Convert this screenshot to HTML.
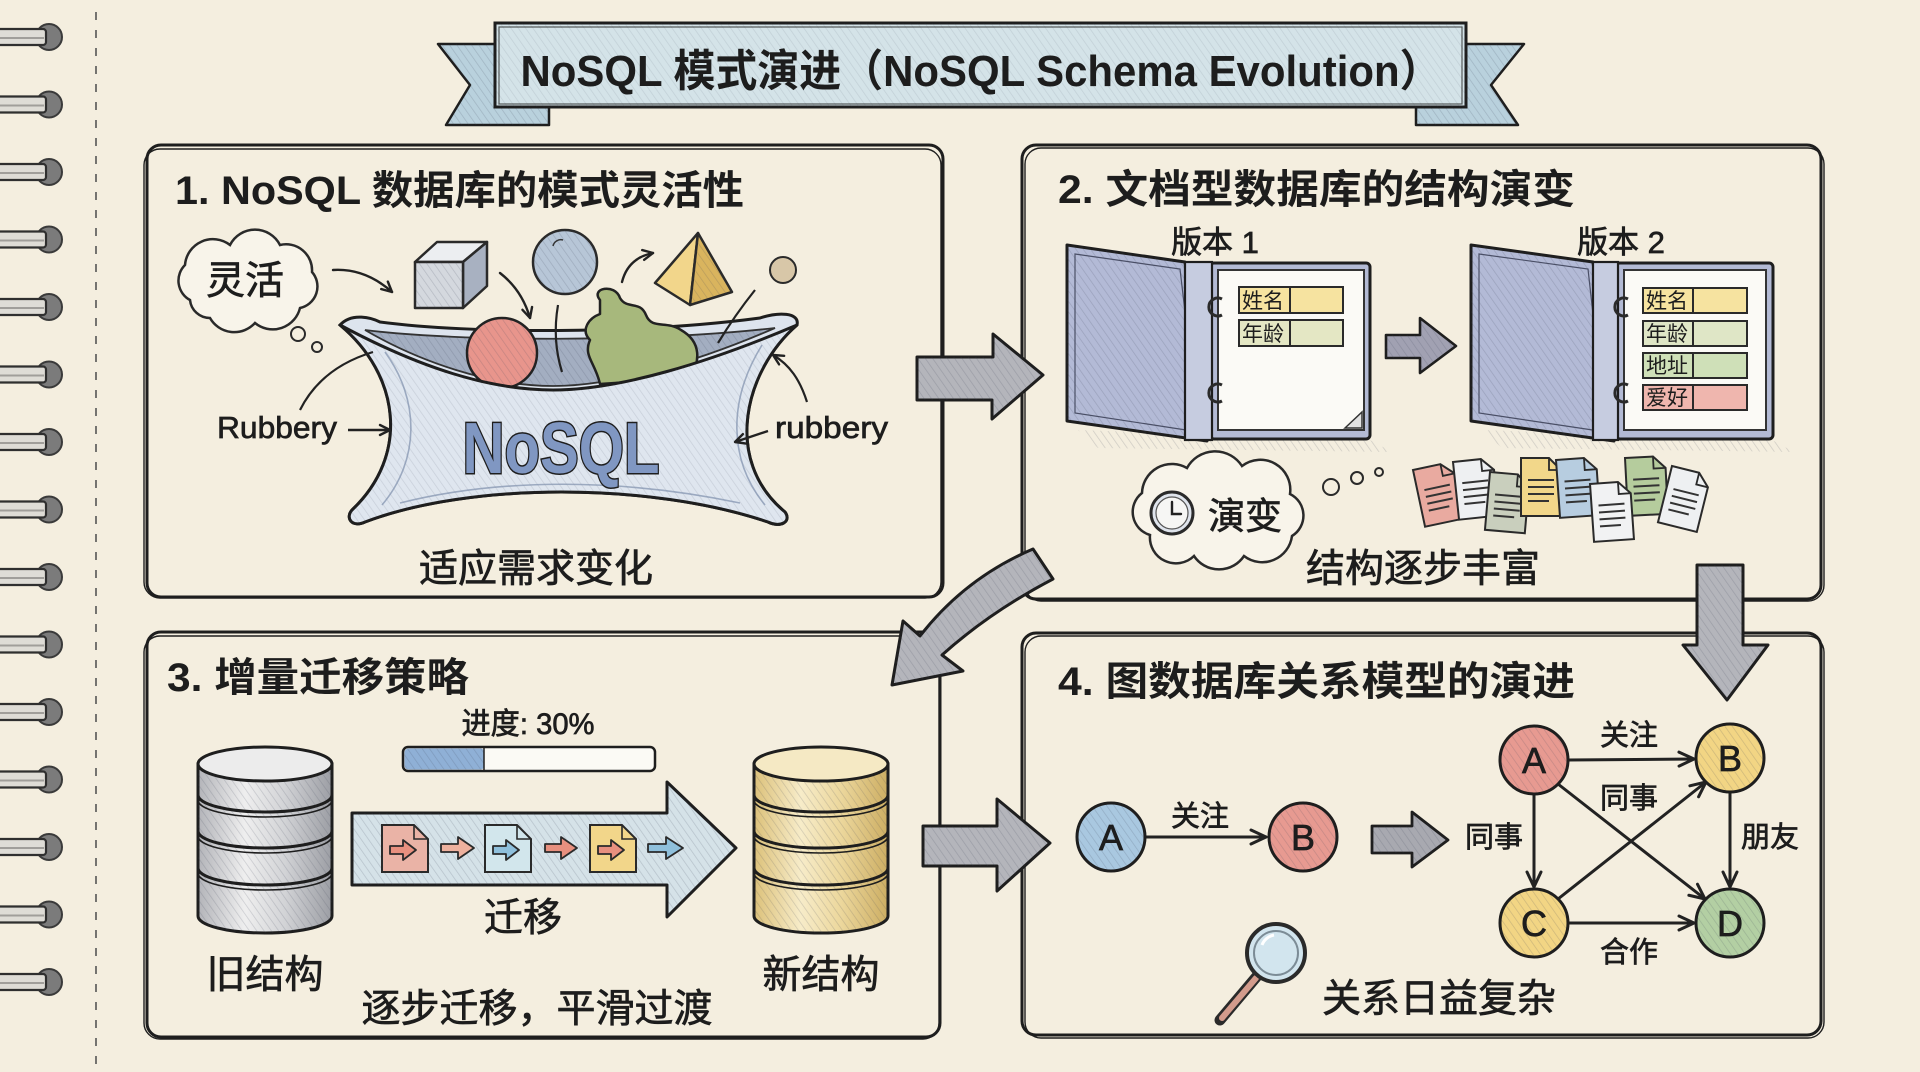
<!DOCTYPE html>
<html><head><meta charset="utf-8">
<style>
html,body{margin:0;padding:0;background:#f4eedf;}
svg{display:block;}
text{font-family:"Liberation Sans","Noto Sans CJK SC",sans-serif;fill:#1d1d1d;}
.t{stroke:#1d1d1d;stroke-width:0.7;}
</style></head><body>
<svg width="1920" height="1072" viewBox="0 0 1920 1072" xmlns="http://www.w3.org/2000/svg">
<defs>
<pattern id="h" width="6" height="6" patternUnits="userSpaceOnUse" patternTransform="rotate(-35)"><line x1="0" y1="0" x2="0" y2="6" stroke="#3c4056" stroke-opacity="0.2" stroke-width="1.5"/></pattern>
<marker id="ah" viewBox="0 0 14 14" refX="12" refY="7" markerWidth="14" markerHeight="14" markerUnits="userSpaceOnUse" orient="auto"><path d="M2,2 L12,7 L2,12" fill="none" stroke="#222" stroke-width="2.4" stroke-linecap="round" stroke-linejoin="round"/></marker>
<marker id="ah2" viewBox="0 0 20 20" refX="18" refY="10" markerWidth="20" markerHeight="20" markerUnits="userSpaceOnUse" orient="auto"><path d="M3,3 L18,10 L3,17" fill="none" stroke="#222" stroke-width="3" stroke-linecap="round" stroke-linejoin="round"/></marker>
<linearGradient id="gGray" x1="0" x2="1" y1="0" y2="0"><stop offset="0" stop-color="#b3b4b9"/><stop offset="0.35" stop-color="#efefef"/><stop offset="0.65" stop-color="#d2d3d6"/><stop offset="1" stop-color="#9c9ea4"/></linearGradient>
<linearGradient id="gYel" x1="0" x2="1" y1="0" y2="0"><stop offset="0" stop-color="#dcc17a"/><stop offset="0.35" stop-color="#f7ecc9"/><stop offset="0.65" stop-color="#ecd79c"/><stop offset="1" stop-color="#cdae63"/></linearGradient>
<g id="ring"><circle cx="49" cy="0" r="13" fill="#7b7b7b" stroke="#3a3a3a" stroke-width="2"/><rect x="-4" y="-8" width="50" height="16" rx="3" fill="#dedcd6" stroke="#2f2f2f" stroke-width="2.2"/><line x1="0" y1="1" x2="44" y2="1" stroke="#a09e9a" stroke-width="2"/></g>
<g id="doc"><path d="M0,0 H28 L40,12 V58 H0 Z" stroke="#2a2a2a" stroke-width="2"/><path d="M28,0 V12 H40" fill="none" stroke="#2a2a2a" stroke-width="1.8"/><path d="M7,22 H33 M7,29 H33 M7,36 H33 M7,43 H28" stroke="#333" stroke-width="2"/></g>
<g id="sdoc"><path d="M0,0 H32 L46,14 V47 H0 Z" stroke="#2a2a2a" stroke-width="2"/><path d="M32,0 V14 H46" fill="none" stroke="#2a2a2a" stroke-width="1.6"/></g>
</defs>
<rect width="1920" height="1072" fill="#f4eedf"/>

<!-- spiral rings -->
<use href="#ring" y="37"/><use href="#ring" y="104.5"/><use href="#ring" y="172"/><use href="#ring" y="239.5"/><use href="#ring" y="307"/><use href="#ring" y="374.5"/><use href="#ring" y="442"/><use href="#ring" y="509.5"/><use href="#ring" y="577"/><use href="#ring" y="644.5"/><use href="#ring" y="712"/><use href="#ring" y="779.5"/><use href="#ring" y="847"/><use href="#ring" y="914.5"/><use href="#ring" y="982"/>
<line x1="96" y1="12" x2="96" y2="1072" stroke="#555" stroke-width="1.6" stroke-dasharray="8 10"/>

<!-- title banner -->
<polygon points="438,44 500,44 500,107 549,107 549,125 446,125 470,85" fill="#b9d1dd" stroke="#1e1e1e" stroke-width="2.5" stroke-linejoin="round"/>
<polygon points="438,44 500,44 500,107 549,107 549,125 446,125 470,85" fill="url(#h)"/>
<polygon points="1524,44 1462,44 1462,107 1416,107 1416,125 1518,125 1491,85" fill="#b9d1dd" stroke="#1e1e1e" stroke-width="2.5" stroke-linejoin="round"/>
<polygon points="1524,44 1462,44 1462,107 1416,107 1416,125 1518,125 1491,85" fill="url(#h)"/>
<rect x="495" y="23" width="971" height="84" fill="#d4e3e8" stroke="#1e1e1e" stroke-width="3"/>
<rect x="495" y="23" width="971" height="84" fill="url(#h)" opacity="0.6"/>
<rect x="499" y="27" width="963" height="77" fill="none" stroke="#1e1e1e" stroke-width="1.2" opacity="0.7"/>
<text x="981" y="86" font-size="44" font-weight="bold" text-anchor="middle" textLength="921" lengthAdjust="spacingAndGlyphs">NoSQL 模式演进（NoSQL Schema Evolution）</text>

<!-- panels -->
<g fill="none" stroke="#1e1e1e">
<rect x="147" y="145" width="796" height="452" rx="14" stroke-width="3"/>
<rect x="144" y="149" width="797" height="449" rx="16" stroke-width="1.4"/>
<rect x="1022" y="145" width="799" height="454" rx="14" stroke-width="3"/>
<rect x="1025" y="148" width="799" height="453" rx="16" stroke-width="1.4"/>
<rect x="147" y="632" width="793" height="405" rx="14" stroke-width="3"/>
<rect x="144" y="636" width="795" height="403" rx="16" stroke-width="1.4"/>
<rect x="1022" y="633" width="799" height="402" rx="14" stroke-width="3"/>
<rect x="1025" y="636" width="799" height="402" rx="16" stroke-width="1.4"/>
</g>

<!-- panel titles -->
<text x="175" y="204" font-size="40" font-weight="bold" textLength="569" lengthAdjust="spacingAndGlyphs">1. NoSQL 数据库的模式灵活性</text>
<text x="1058" y="203" font-size="40" font-weight="bold" textLength="517" lengthAdjust="spacingAndGlyphs">2. 文档型数据库的结构演变</text>
<text x="167" y="691" font-size="40" font-weight="bold" textLength="302" lengthAdjust="spacingAndGlyphs">3. 增量迁移策略</text>
<text x="1058" y="695" font-size="40" font-weight="bold" textLength="517" lengthAdjust="spacingAndGlyphs">4. 图数据库关系模型的演进</text>

<!-- ===== Panel 1 ===== -->
<path d="M190 300 a22 22 0 0 1 -5 -35 a28 28 0 0 1 45 -20 a28 28 0 0 1 50 0 a26 26 0 0 1 32 27 a22 22 0 0 1 -12 36 a28 28 0 0 1 -45 15 a28 28 0 0 1 -45 -5 a20 20 0 0 1 -20 -18 Z" fill="#f8f4ea" stroke="#2a2a2a" stroke-width="2.5"/>
<text class="t" x="245" y="294" font-size="39" text-anchor="middle">灵活</text>
<circle cx="298" cy="334" r="7" fill="none" stroke="#2a2a2a" stroke-width="2"/>
<circle cx="317" cy="347" r="5" fill="none" stroke="#2a2a2a" stroke-width="2"/>

<g fill="none" stroke="#222" stroke-width="2.4" stroke-linecap="round">
<path d="M333 270 Q365 268 392 292" marker-end="url(#ah)"/>
<path d="M500 273 Q522 290 530 318" marker-end="url(#ah)"/>
<path d="M622 282 Q628 258 653 253" marker-end="url(#ah)"/>
</g>

<!-- cube -->
<polygon points="415,262 437,242 487,242 463,262" fill="#eceef1" stroke="#2a2a2a" stroke-width="2.5" stroke-linejoin="round"/>
<polygon points="463,262 487,242 487,286 463,308" fill="#a8b1c1" stroke="#2a2a2a" stroke-width="2.5" stroke-linejoin="round"/>
<polygon points="415,262 463,262 463,308 415,308" fill="#d4d8de" stroke="#2a2a2a" stroke-width="2.5" stroke-linejoin="round"/>
<polygon points="415,262 463,262 463,308 415,308" fill="url(#h)"/>
<!-- sphere -->
<circle cx="565" cy="262" r="32" fill="#b7c6d7" stroke="#2a2a2a" stroke-width="2.5"/>
<circle cx="565" cy="262" r="32" fill="url(#h)"/>
<path d="M553 246 a8 8 0 0 1 10 -6" fill="none" stroke="#333" stroke-width="1.5"/>
<!-- pyramid -->
<polygon points="698,233 655,283 690,305" fill="#f2d68b" stroke="#2a2a2a" stroke-width="2.5" stroke-linejoin="round"/>
<polygon points="698,233 690,305 732,292" fill="#d9b45e" stroke="#2a2a2a" stroke-width="2.5" stroke-linejoin="round"/>
<polygon points="698,233 690,305 732,292" fill="url(#h)"/>
<!-- small ball -->
<circle cx="783" cy="270" r="13" fill="#d8c7a8" stroke="#2a2a2a" stroke-width="2"/>

<!-- bag -->
<path d="M340 325 C352 312 372 318 380 322 C470 334 640 334 760 318 C778 312 800 312 797 325 C745 370 722 460 785 512 C792 522 780 528 768 522 C650 482 470 482 365 522 C352 528 345 518 352 510 C410 455 400 375 340 325 Z" fill="#dde4ee" stroke="#1e1e1e" stroke-width="3"/>
<path d="M365 330 C460 342 650 342 775 328 C690 365 610 386 553 386 C490 386 420 362 365 330 Z" fill="#a3aec1" stroke="#333" stroke-width="1.8"/>
<path d="M365 330 C460 342 650 342 775 328 C690 365 610 386 553 386 C490 386 420 362 365 330 Z" fill="url(#h)"/>
<path d="M558 305 Q552 340 562 372" fill="none" stroke="#222" stroke-width="2.2"/>
<path d="M755 290 Q735 315 718 343" fill="none" stroke="#222" stroke-width="2.2"/>
<circle cx="502" cy="353" r="35" fill="#e8958c" stroke="#222" stroke-width="2.5"/>
<circle cx="502" cy="353" r="35" fill="url(#h)"/>
<path d="M600 300 C590 288 615 283 620 298 C627 310 640 300 646 315 C652 330 666 320 681 330 C702 342 700 362 690 378 L600 384 C595 362 583 356 590 340 C580 330 589 318 600 314 Z" fill="#a7b87c" stroke="#222" stroke-width="2.5" stroke-linejoin="round"/>
<path d="M340 325 C420 368 490 390 553 390 C620 390 710 362 797 325 C745 370 722 460 785 512 C792 522 780 528 768 522 C650 482 470 482 365 522 C352 528 345 518 352 510 C410 455 400 375 340 325 Z" fill="#dfe6ef" stroke="#1e1e1e" stroke-width="3" stroke-linejoin="round"/>
<path d="M340 325 C420 368 490 390 553 390 C620 390 710 362 797 325 C745 370 722 460 785 512 C792 522 780 528 768 522 C650 482 470 482 365 522 C352 528 345 518 352 510 C410 455 400 375 340 325 Z" fill="url(#h)" opacity="0.7"/>
<g fill="none" stroke="#7f90ad" stroke-width="1.6" opacity="0.7">
<path d="M385 352 C420 400 420 460 382 505"/>
<path d="M762 345 C728 400 728 460 765 505"/>
<path d="M400 503 C500 478 620 478 740 503"/>
</g>
<text x="561" y="473" font-size="72" font-weight="bold" text-anchor="middle" textLength="197" lengthAdjust="spacingAndGlyphs" stroke="#1e1e1e" stroke-width="3" paint-order="stroke" style="fill:#8097c2">NoSQL</text>

<text class="t" x="217" y="438" font-size="31" textLength="120" lengthAdjust="spacingAndGlyphs">Rubbery</text>
<line x1="348" y1="430" x2="390" y2="430" stroke="#222" stroke-width="2.4" marker-end="url(#ah)"/>
<text class="t" x="775" y="438" font-size="31" textLength="113" lengthAdjust="spacingAndGlyphs">rubbery</text>
<line x1="768" y1="431" x2="735" y2="442" stroke="#222" stroke-width="2.4" marker-end="url(#ah)"/>
<path d="M300 410 C315 380 340 362 373 352" fill="none" stroke="#222" stroke-width="2.2"/>
<path d="M807 402 C800 380 790 365 773 355" fill="none" stroke="#222" stroke-width="2.2" marker-end="url(#ah)"/>
<text class="t" x="536" y="582" font-size="39" text-anchor="middle">适应需求变化</text>

<!-- ===== Panel 2 ===== -->
<text class="t" x="1215" y="253" font-size="31" text-anchor="middle">版本 1</text>
<text class="t" x="1621" y="253" font-size="31" text-anchor="middle">版本 2</text>

<!-- binder 1 -->
<path d="M1078 430 L1370 440 L1392 452 L1098 448 Z" fill="url(#h)"/>
<rect x="1210" y="263" width="160" height="176" rx="4" fill="#b3bad4" stroke="#1e1e1e" stroke-width="3"/>
<rect x="1218" y="270" width="146" height="160" fill="#fbfaf6" stroke="#333" stroke-width="2"/>
<polygon points="1067,245 1185,262 1207,441 1067,421" fill="#b3bad6" stroke="#1e1e1e" stroke-width="3" stroke-linejoin="round"/>
<polygon points="1067,245 1185,262 1207,441 1067,421" fill="url(#h)"/>
<polygon points="1075,254 1180,269 1199,432 1075,413" fill="none" stroke="#4a4f66" stroke-width="1.2"/>
<rect x="1185" y="262" width="27" height="178" fill="#c6cce0" stroke="#1e1e1e" stroke-width="2.2"/>
<path d="M1222 299 a9 9 0 1 0 0 16 M1222 385 a9 9 0 1 0 0 16" fill="none" stroke="#2a2a2a" stroke-width="3"/>
<path d="M1345 428 L1362 412 L1362 428 Z" fill="#e2e2e2" stroke="#333" stroke-width="1.5"/>
<rect x="1239" y="287" width="104" height="26" fill="#f6e3a0" stroke="#2a2a2a" stroke-width="2"/>
<line x1="1290" y1="287" x2="1290" y2="313" stroke="#2a2a2a" stroke-width="2"/>
<text x="1242" y="308" font-size="21">姓名</text>
<rect x="1239" y="320" width="104" height="26" fill="#e4e7c4" stroke="#2a2a2a" stroke-width="2"/>
<line x1="1290" y1="320" x2="1290" y2="346" stroke="#2a2a2a" stroke-width="2"/>
<text x="1242" y="341" font-size="21">年龄</text>

<polygon points="1386,335 1420,335 1420,318 1456,346 1420,373 1420,358 1386,358" fill="#a1a1b2" stroke="#1e1e1e" stroke-width="2.6" stroke-linejoin="round"/>
<polygon points="1386,335 1420,335 1420,318 1456,346 1420,373 1420,358 1386,358" fill="url(#h)"/>

<!-- binder 2 -->
<path d="M1482 430 L1772 440 L1794 452 L1502 448 Z" fill="url(#h)"/>
<rect x="1616" y="263" width="157" height="176" rx="4" fill="#b3bad4" stroke="#1e1e1e" stroke-width="3"/>
<rect x="1624" y="270" width="142" height="160" fill="#fbfaf6" stroke="#333" stroke-width="2"/>
<polygon points="1471,245 1593,262 1614,441 1471,421" fill="#b3bad6" stroke="#1e1e1e" stroke-width="3" stroke-linejoin="round"/>
<polygon points="1471,245 1593,262 1614,441 1471,421" fill="url(#h)"/>
<polygon points="1479,254 1588,269 1606,432 1479,413" fill="none" stroke="#4a4f66" stroke-width="1.2"/>
<rect x="1593" y="262" width="25" height="178" fill="#c6cce0" stroke="#1e1e1e" stroke-width="2.2"/>
<path d="M1628 299 a9 9 0 1 0 0 16 M1628 385 a9 9 0 1 0 0 16" fill="none" stroke="#2a2a2a" stroke-width="3"/>
<rect x="1643" y="288" width="104" height="25" fill="#f6e3a0" stroke="#2a2a2a" stroke-width="2"/>
<line x1="1693" y1="288" x2="1693" y2="313" stroke="#2a2a2a" stroke-width="2"/>
<text x="1646" y="308" font-size="21">姓名</text>
<rect x="1643" y="321" width="104" height="25" fill="#dfe6c6" stroke="#2a2a2a" stroke-width="2"/>
<line x1="1693" y1="321" x2="1693" y2="346" stroke="#2a2a2a" stroke-width="2"/>
<text x="1646" y="341" font-size="21">年龄</text>
<rect x="1643" y="353" width="104" height="25" fill="#cfe0b8" stroke="#2a2a2a" stroke-width="2"/>
<line x1="1693" y1="353" x2="1693" y2="378" stroke="#2a2a2a" stroke-width="2"/>
<text x="1646" y="373" font-size="21">地址</text>
<rect x="1643" y="385" width="104" height="25" fill="#efb6ae" stroke="#2a2a2a" stroke-width="2"/>
<line x1="1693" y1="385" x2="1693" y2="410" stroke="#2a2a2a" stroke-width="2"/>
<text x="1646" y="405" font-size="21">爱好</text>

<!-- cloud 演变 -->
<path d="M1150 535 a24 24 0 0 1 -8 -42 a30 30 0 0 1 45 -25 a32 32 0 0 1 55 -2 a30 30 0 0 1 48 28 a24 24 0 0 1 2 42 a30 30 0 0 1 -48 20 a30 30 0 0 1 -50 0 a26 26 0 0 1 -44 -21 Z" fill="#f8f4ea" stroke="#2a2a2a" stroke-width="2.5"/>
<circle cx="1172" cy="513" r="21" fill="#dfe4ec" stroke="#2a2a2a" stroke-width="3"/>
<circle cx="1172" cy="513" r="16" fill="#f6f6f4" stroke="#555" stroke-width="1.2"/>
<path d="M1172 502 V514 H1181" fill="none" stroke="#222" stroke-width="2.4" stroke-linecap="round"/>
<text class="t" x="1245" y="529" font-size="37" text-anchor="middle">演变</text>
<circle cx="1331" cy="487" r="8" fill="none" stroke="#2a2a2a" stroke-width="2"/>
<circle cx="1357" cy="478" r="6" fill="none" stroke="#2a2a2a" stroke-width="2"/>
<circle cx="1379" cy="472" r="4" fill="none" stroke="#2a2a2a" stroke-width="2"/>

<!-- doc pile -->
<use href="#doc" transform="translate(1413,470) rotate(-12)" fill="#e9aaa0"/>
<use href="#doc" transform="translate(1453,462) rotate(-6)" fill="#eef0f2"/>
<use href="#doc" transform="translate(1490,472) rotate(5)" fill="#c9cfbd"/>
<use href="#doc" transform="translate(1521,458)" fill="#f2d78a"/>
<use href="#doc" transform="translate(1556,460) rotate(-4)" fill="#b7cde0"/>
<use href="#doc" transform="translate(1625,458) rotate(-3)" fill="#b5cc9d"/>
<use href="#doc" transform="translate(1590,484) rotate(-4)" fill="#f1f2f3"/>
<use href="#doc" transform="translate(1672,466) rotate(14)" fill="#eef0f2"/>
<text class="t" x="1423" y="582" font-size="39" text-anchor="middle">结构逐步丰富</text>

<!-- ===== inter-panel arrows ===== -->
<g stroke="#1e1e1e" stroke-width="3" stroke-linejoin="round">
<polygon points="917,357 993,357 993,334 1043,375 992,419 992,400 917,400" fill="#b4b5bb"/>
<polygon points="923,826 997,826 997,799 1050,843 997,891 997,866 923,866" fill="#b4b5bb"/>
<polygon points="1697,565 1743,565 1743,645 1768,645 1727,700 1683,645 1697,645" fill="#b4b5bb"/>
<path d="M1033 549 Q965 578 920 636 L903 621 L892 685 L963 671 L942 655 Q990 612 1053 579 Z" fill="#b4b5bb"/>
</g>
<g fill="url(#h)">
<polygon points="917,357 993,357 993,334 1043,375 992,419 992,400 917,400"/>
<polygon points="923,826 997,826 997,799 1050,843 997,891 997,866 923,866"/>
<polygon points="1697,565 1743,565 1743,645 1768,645 1727,700 1683,645 1697,645"/>
<path d="M1033 549 Q965 578 920 636 L903 621 L892 685 L963 671 L942 655 Q990 612 1053 579 Z"/>
</g>

<!-- ===== Panel 3 ===== -->
<text class="t" x="528" y="734" font-size="30" text-anchor="middle" textLength="133" lengthAdjust="spacingAndGlyphs">进度: 30%</text>
<rect x="403" y="747" width="252" height="24" rx="5" fill="#fbfaf5" stroke="#1e1e1e" stroke-width="2.5"/>
<rect x="404.5" y="748.5" width="80" height="21" rx="4" fill="#8fb0d6"/>
<rect x="404.5" y="748.5" width="80" height="21" rx="4" fill="url(#h)"/>
<line x1="484" y1="748" x2="484" y2="770" stroke="#1e1e1e" stroke-width="1.5"/>

<!-- old DB -->
<path d="M198,764 V916 A67,17 0 0 0 332,916 V764 Z" fill="url(#gGray)" stroke="#1e1e1e" stroke-width="3"/>
<path d="M198,764 V916 A67,17 0 0 0 332,916 V764 Z" fill="url(#h)"/>
<g fill="none" stroke="#1e1e1e">
<path d="M198,795 A67,17 0 0 0 332,795" stroke-width="3"/><path d="M198,800 A67,17 0 0 0 332,800" stroke-width="1.6"/>
<path d="M198,831 A67,17 0 0 0 332,831" stroke-width="3"/><path d="M198,836 A67,17 0 0 0 332,836" stroke-width="1.6"/>
<path d="M198,868 A67,17 0 0 0 332,868" stroke-width="3"/><path d="M198,873 A67,17 0 0 0 332,873" stroke-width="1.6"/>
</g>
<ellipse cx="265" cy="764" rx="67" ry="17" fill="#ececec" stroke="#1e1e1e" stroke-width="3"/>

<!-- new DB -->
<path d="M754,764 V916 A67,17 0 0 0 888,916 V764 Z" fill="url(#gYel)" stroke="#1e1e1e" stroke-width="3"/>
<path d="M754,764 V916 A67,17 0 0 0 888,916 V764 Z" fill="url(#h)"/>
<g fill="none" stroke="#1e1e1e">
<path d="M754,795 A67,17 0 0 0 888,795" stroke-width="3"/><path d="M754,800 A67,17 0 0 0 888,800" stroke-width="1.6"/>
<path d="M754,831 A67,17 0 0 0 888,831" stroke-width="3"/><path d="M754,836 A67,17 0 0 0 888,836" stroke-width="1.6"/>
<path d="M754,868 A67,17 0 0 0 888,868" stroke-width="3"/><path d="M754,873 A67,17 0 0 0 888,873" stroke-width="1.6"/>
</g>
<ellipse cx="821" cy="764" rx="67" ry="17" fill="#f5e9c4" stroke="#1e1e1e" stroke-width="3"/>

<!-- migration arrow -->
<polygon points="352,813 667,813 667,782 736,848 667,917 667,885 352,885" fill="#d5e2e8" stroke="#1e1e1e" stroke-width="3" stroke-linejoin="round"/>
<polygon points="352,813 667,813 667,782 736,848 667,917 667,885 352,885" fill="url(#h)"/>
<use href="#sdoc" x="382" y="825" fill="#eab3a6"/>
<use href="#sdoc" x="485" y="825" fill="#d2e6ec"/>
<use href="#sdoc" x="590" y="825" fill="#f2d68a"/>
<g stroke="#2a2a2a" stroke-width="1.8" stroke-linejoin="round">
<path d="M390,846 H403 V840 L416,850 L403,860 V854 H390 Z" fill="#e8907f"/>
<path d="M493,846 H506 V840 L519,850 L506,860 V854 H493 Z" fill="#8fc0dc"/>
<path d="M598,846 H611 V840 L624,850 L611,860 V854 H598 Z" fill="#e8907f"/>
<path d="M441,844 H458 V837 L474,848 L458,859 V852 H441 Z" fill="#eeb19e"/>
<path d="M545,844 H561 V837 L577,848 L561,859 V852 H545 Z" fill="#e8907f"/>
<path d="M648,844 H666 V837 L683,848 L666,859 V852 H648 Z" fill="#8fc0dc"/>
</g>
<text class="t" x="523" y="931" font-size="39" text-anchor="middle">迁移</text>
<text class="t" x="265" y="988" font-size="39" text-anchor="middle">旧结构</text>
<text class="t" x="821" y="988" font-size="39" text-anchor="middle">新结构</text>
<text class="t" x="537" y="1022" font-size="39" text-anchor="middle">逐步迁移，平滑过渡</text>

<!-- ===== Panel 4 ===== -->
<g stroke="#222" stroke-width="3" fill="none" stroke-linecap="round">
<line x1="1145" y1="837" x2="1266" y2="837" marker-end="url(#ah2)"/>
<line x1="1568" y1="760" x2="1694" y2="759" marker-end="url(#ah2)"/>
<line x1="1534" y1="794" x2="1534" y2="887" marker-end="url(#ah2)"/>
<line x1="1730" y1="792" x2="1730" y2="887" marker-end="url(#ah2)"/>
<line x1="1558" y1="784" x2="1705" y2="899" marker-end="url(#ah2)"/>
<line x1="1558" y1="899" x2="1706" y2="782" marker-end="url(#ah2)"/>
<line x1="1568" y1="923" x2="1694" y2="923" marker-end="url(#ah2)"/>
</g>
<g stroke="#1e1e1e" stroke-width="3">
<circle cx="1111" cy="837" r="34" fill="#a9c8e0"/>
<circle cx="1303" cy="837" r="34" fill="#e79a91"/>
<circle cx="1534" cy="760" r="34" fill="#e79a91"/>
<circle cx="1730" cy="758" r="34" fill="#f2d584"/>
<circle cx="1534" cy="923" r="34" fill="#f2d584"/>
<circle cx="1730" cy="923" r="34" fill="#b3cfa3"/>
</g>
<g fill="url(#h)">
<circle cx="1111" cy="837" r="33"/><circle cx="1303" cy="837" r="33"/><circle cx="1534" cy="760" r="33"/><circle cx="1730" cy="758" r="33"/><circle cx="1534" cy="923" r="33"/><circle cx="1730" cy="923" r="33"/>
</g>
<g font-size="36" text-anchor="middle" class="t">
<text x="1111" y="850">A</text><text x="1303" y="850">B</text>
<text x="1534" y="773">A</text><text x="1730" y="771">B</text>
<text x="1534" y="936">C</text><text x="1730" y="936">D</text>
</g>
<g font-size="29" text-anchor="middle" class="t">
<text x="1200" y="826">关注</text>
<text x="1629" y="745">关注</text>
<text x="1629" y="808">同事</text>
<text x="1494" y="847">同事</text>
<text x="1770" y="847">朋友</text>
<text x="1629" y="962">合作</text>
</g>
<polygon points="1372,826 1412,826 1412,812 1448,840 1412,867 1412,853 1372,853" fill="#a8a9b0" stroke="#1e1e1e" stroke-width="2.8" stroke-linejoin="round"/>
<polygon points="1372,826 1412,826 1412,812 1448,840 1412,867 1412,853 1372,853" fill="url(#h)"/>

<!-- magnifier -->
<line x1="1258" y1="975" x2="1220" y2="1020" stroke="#2a2a2a" stroke-width="11" stroke-linecap="round"/>
<line x1="1256" y1="978" x2="1222" y2="1018" stroke="#d39b8c" stroke-width="6" stroke-linecap="round"/>
<circle cx="1276" cy="953" r="29" fill="#d2e5ee" stroke="#2a2a2a" stroke-width="4"/>
<circle cx="1276" cy="953" r="22" fill="none" stroke="#7c8c96" stroke-width="2"/>
<path d="M1262 945 a16 16 0 0 1 12 -10" fill="none" stroke="#fff" stroke-width="3"/>
<text class="t" x="1439" y="1012" font-size="39" text-anchor="middle">关系日益复杂</text>
</svg>
</body></html>
